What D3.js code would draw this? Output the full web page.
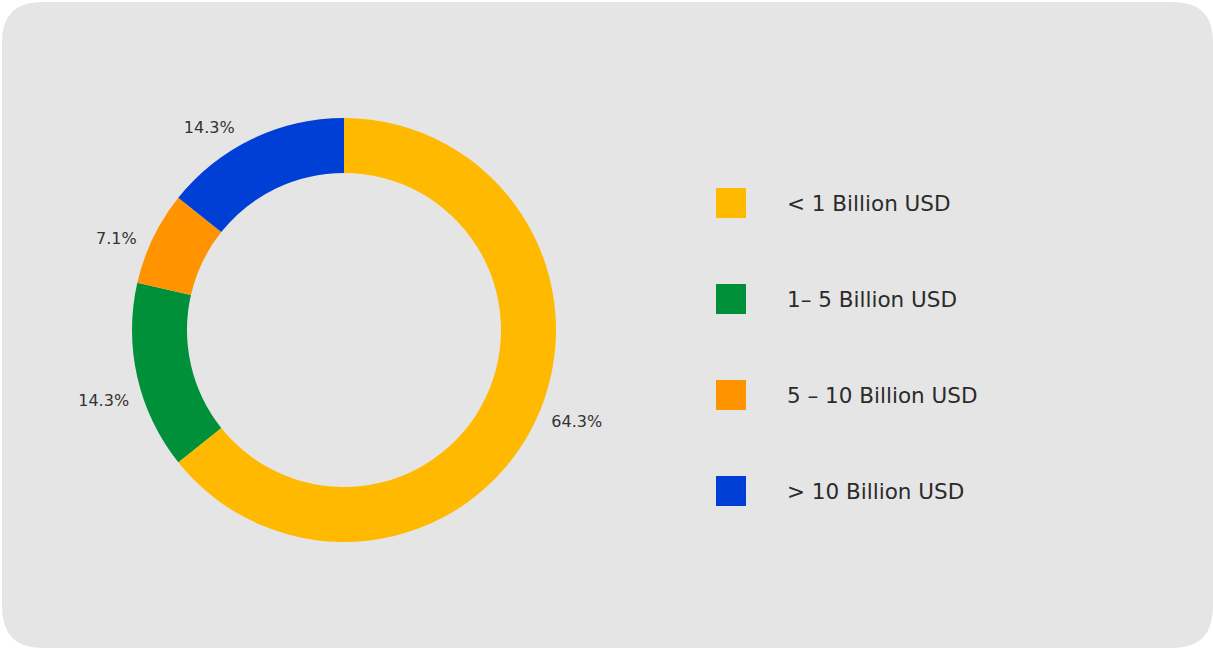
<!DOCTYPE html>
<html><head><meta charset="utf-8">
<script src="https://cdn.jsdelivr.net/npm/d3@7"></script>
<style>html,body{margin:0;padding:0;background:#fff;}svg{display:block;}</style>
</head><body>
<svg id="chart" width="1213" height="648"></svg>
<script>
const categories = ["< 1 Billion USD", "1\u2013 5 Billion USD", "5 \u2013 10 Billion USD", "> 10 Billion USD"];
const values = [9, 2, 1, 2];
const colors = ["#FFB900", "#00903A", "#FF9400", "#003FD6"];

const W = 1213, H = 648;
const svg = d3.select("#chart");
svg.append("path").attr("fill", "#e5e5e5")
  .attr("d", `M42,2 H${W-40} Q${W},2 ${W},42 V${H-42} Q${W},${H} ${W-40},${H} H42 Q2,${H} 2,${H-42} V42 Q2,2 42,2 Z`);

const cx = 344, cy = 330, R = 212, r = 157;
const total = d3.sum(values);
const pie = d3.pie().sort(null).value(d => d)(values);
const arc = d3.arc().innerRadius(r).outerRadius(R);
const g = svg.append("g").attr("transform", `translate(${cx},${cy})`);
g.selectAll("path.slice").data(pie).enter().append("path")
  .attr("class", "slice").attr("d", arc).attr("fill", (d, i) => colors[i]);

const fmt = d3.format(".1%");
const labelShift = -3.5 * Math.PI / 180;
const labels = g.selectAll("text.lbl").data(pie).enter().append("text")
  .attr("class", "lbl")
  .attr("font-family", "Verdana, 'DejaVu Sans', sans-serif")
  .attr("font-size", 16).attr("fill", "#333")
  .text(d => fmt(d.value / total));
labels.each(function(d) {
  const a = (d.startAngle + d.endAngle) / 2 + labelShift;
  const bb = this.getBBox();
  const rr = R + 12;
  const px = Math.sin(a) * rr, py = -Math.cos(a) * rr;
  const tx = px + (px >= 0 ? bb.width / 2 : -bb.width / 2);
  const ty = py + (py >= 0 ? 7 : -7);
  d3.select(this).attr("x", tx).attr("y", ty).attr("text-anchor", "middle").attr("dominant-baseline", "central");
});

const ly = d3.scalePoint().domain(categories).range([203, 491]);
const leg = svg.append("g");
const items = leg.selectAll("g").data(categories).enter().append("g")
  .attr("transform", d => `translate(716,${ly(d)})`);
items.append("rect").attr("x", 0).attr("y", -15).attr("width", 30).attr("height", 30)
  .attr("fill", (d, i) => colors[i]);
items.append("text").attr("x", 71).attr("y", 0).attr("dominant-baseline", "central")
  .attr("font-family", "Verdana, 'DejaVu Sans', sans-serif").attr("font-size", 21.5)
  .attr("fill", "#2b2b2b").text(d => d);
</script>
</body></html>
